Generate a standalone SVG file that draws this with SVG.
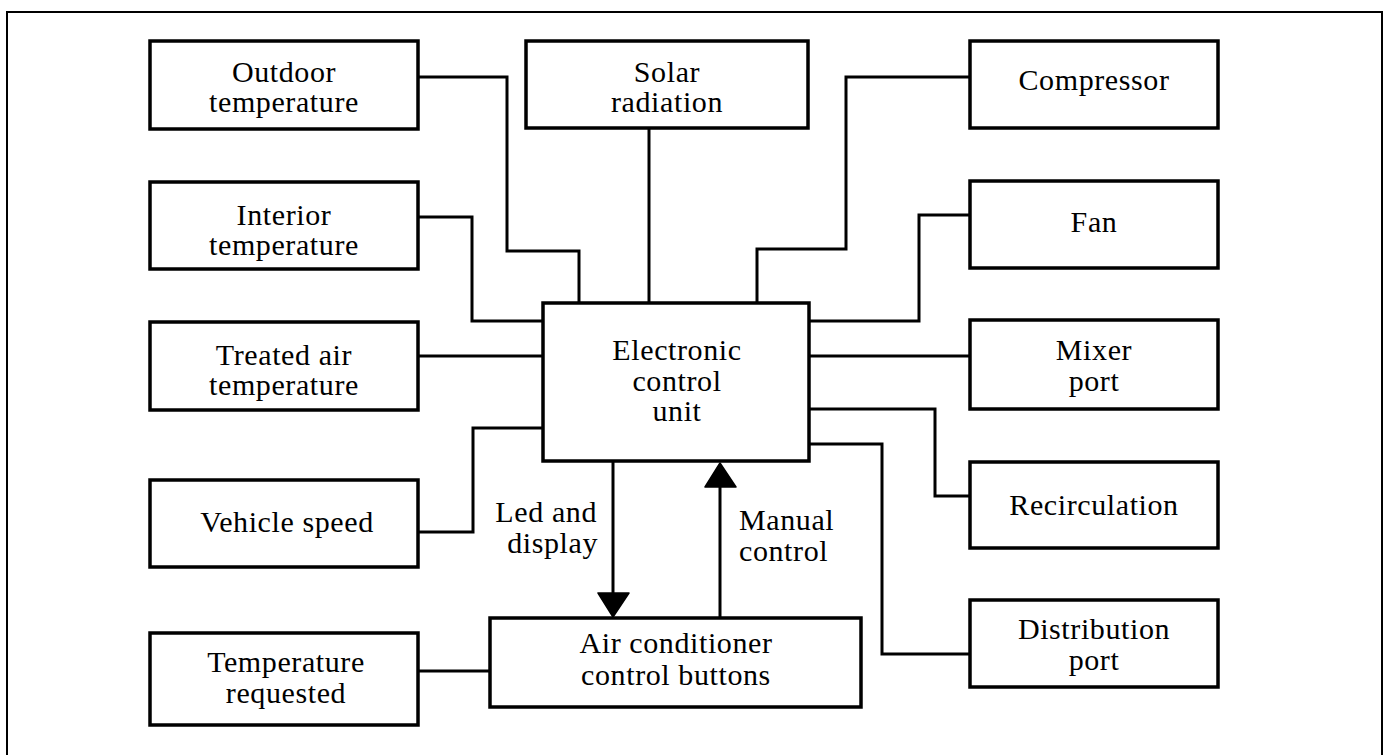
<svg xmlns="http://www.w3.org/2000/svg" width="1386" height="755" viewBox="0 0 1386 755">
<style>
.box{fill:#fff;stroke:#000;stroke-width:3.5}
.wire{fill:none;stroke:#000;stroke-width:3}
.frame{fill:none;stroke:#000;stroke-width:2}
text{font-family:"Liberation Serif","Times New Roman",serif;font-size:30px;letter-spacing:0.6px;fill:#000}
.c{text-anchor:middle}
.e{text-anchor:end}
.arrow{fill:#000;stroke:#000;stroke-width:1.5;stroke-linejoin:round}
</style>
<rect x="0" y="0" width="1386" height="755" fill="#fff"/>
<path class="frame" d="M7,770 V12 H1382 V770"/>
<g id="connectors">
<path class="wire" d="M418,77 H507 V251 H579 V303"/>
<path class="wire" d="M649,128 V303"/>
<path class="wire" d="M970,77 H846 V249 H757 V303"/>
<path class="wire" d="M418,217 H472 V321 H543"/>
<path class="wire" d="M970,215 H919 V321 H809"/>
<path class="wire" d="M418,356 H543"/>
<path class="wire" d="M809,356 H970"/>
<path class="wire" d="M543,428 H473 V532 H418"/>
<path class="wire" d="M809,409 H935 V496 H970"/>
<path class="wire" d="M809,444 H882 V654 H970"/>
<path class="wire" d="M418,671 H490"/>
<path class="wire" d="M613,461 V595"/>
<polygon class="arrow" points="598,593 629,593 613,617"/>
<path class="wire" d="M720,618 V485"/>
<polygon class="arrow" points="705,487 736,487 720,463"/>
<text class="e" x="597" y="522">Led and</text>
<text class="e" x="598" y="553">display</text>
<text x="739" y="530">Manual</text>
<text x="739" y="561">control</text>
</g>
<g id="outdoor"><rect class="box" x="150" y="41" width="268" height="88"/><text class="c" x="284" y="82">Outdoor</text><text class="c" x="284" y="112">temperature</text></g>
<g id="interior"><rect class="box" x="150" y="182" width="268" height="87"/><text class="c" x="284" y="225">Interior</text><text class="c" x="284" y="255">temperature</text></g>
<g id="treated"><rect class="box" x="150" y="322" width="268" height="88"/><text class="c" x="284" y="365">Treated air</text><text class="c" x="284" y="395">temperature</text></g>
<g id="vehicle"><rect class="box" x="150" y="480" width="268" height="87"/><text class="c" x="287" y="532">Vehicle speed</text></g>
<g id="requested"><rect class="box" x="150" y="633" width="268" height="92"/><text class="c" x="286" y="672">Temperature</text><text class="c" x="286" y="703">requested</text></g>
<g id="solar"><rect class="box" x="526" y="41" width="282" height="87"/><text class="c" x="667" y="82">Solar</text><text class="c" x="667" y="112">radiation</text></g>
<g id="compressor"><rect class="box" x="970" y="41" width="248" height="87"/><text class="c" x="1094" y="90">Compressor</text></g>
<g id="fan"><rect class="box" x="970" y="181" width="248" height="87"/><text class="c" x="1094" y="232">Fan</text></g>
<g id="mixer"><rect class="box" x="970" y="320" width="248" height="89"/><text class="c" x="1094" y="360">Mixer</text><text class="c" x="1094" y="391">port</text></g>
<g id="recirculation"><rect class="box" x="970" y="462" width="248" height="86"/><text class="c" x="1094" y="515">Recirculation</text></g>
<g id="distribution"><rect class="box" x="970" y="600" width="248" height="87"/><text class="c" x="1094" y="639">Distribution</text><text class="c" x="1094" y="670">port</text></g>
<g id="ecu"><rect class="box" x="543" y="303" width="266" height="158"/><text class="c" x="677" y="360">Electronic</text><text class="c" x="677" y="391">control</text><text class="c" x="677" y="421">unit</text></g>
<g id="buttons"><rect class="box" x="490" y="618" width="371" height="89"/><text class="c" x="676" y="653">Air conditioner</text><text class="c" x="676" y="685">control buttons</text></g>
</svg>
